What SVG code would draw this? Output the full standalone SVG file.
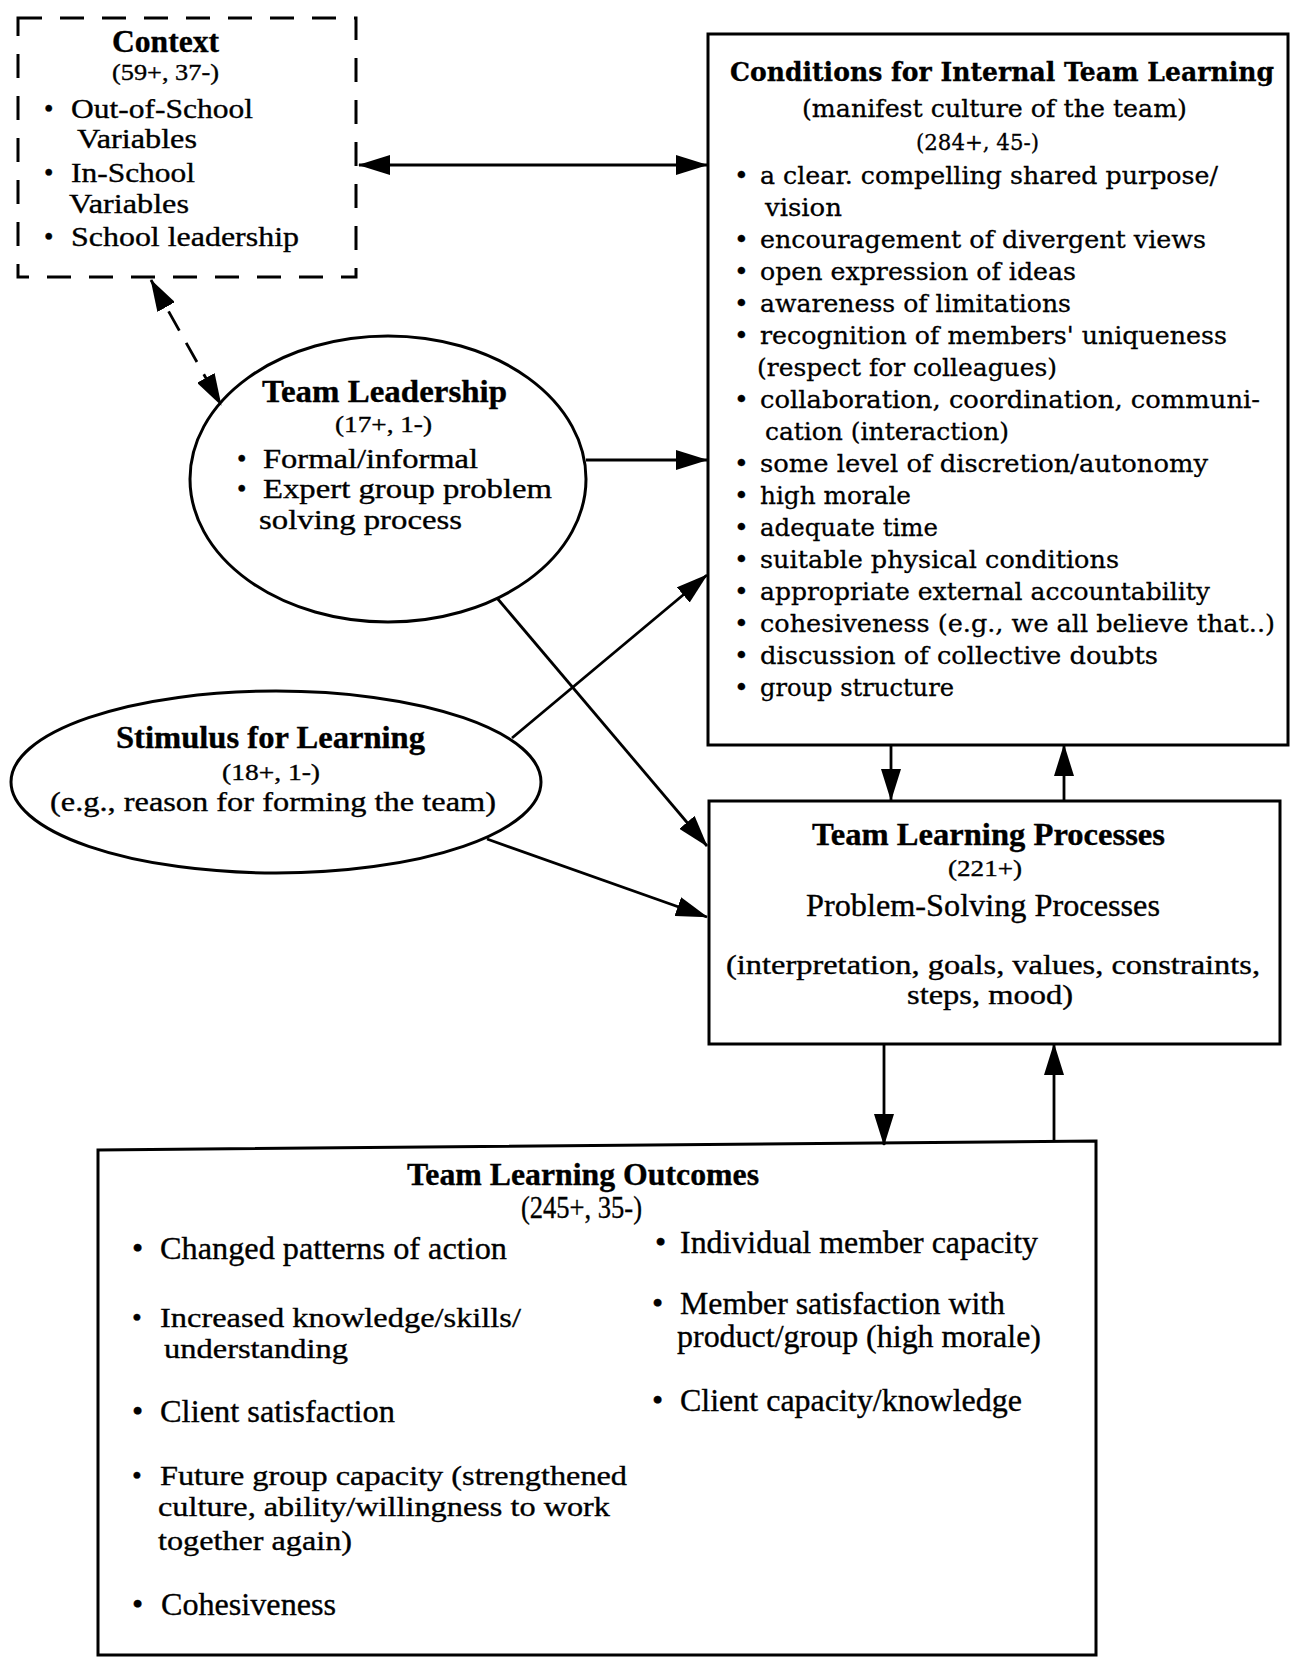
<svg xmlns="http://www.w3.org/2000/svg" width="1294" height="1658" viewBox="0 0 1294 1658">
<style>
.t{font-family:"Liberation Serif","Times New Roman",serif;font-size:32px;fill:#000;stroke:#000;stroke-width:0.35}
.b{font-weight:bold}
.s{font-size:23px}
.m{font-size:27px}
.n{font-size:28px}
.c{font-family:"DejaVu Serif","Liberation Serif",serif;font-size:25px;fill:#000;stroke:#000;stroke-width:0.3}
.ct{font-size:26px;font-weight:bold}
.cs{font-size:22px}
.box{fill:none;stroke:#000;stroke-width:3}
.ln{fill:none;stroke:#000;stroke-width:2.8}
.dash{stroke-dasharray:22 14}
</style>
<defs>
<marker id="ah" viewBox="0 0 32 20" refX="31" refY="10" markerWidth="32" markerHeight="20" markerUnits="userSpaceOnUse" orient="auto-start-reverse">
<path d="M0,0 L32,10 L0,20 z" fill="#000"/>
</marker>
</defs>

<g id="connectors">
<line class="ln" x1="359" y1="165" x2="707" y2="165" marker-start="url(#ah)" marker-end="url(#ah)"/>
<line class="ln dash" x1="151" y1="280" x2="221" y2="405" marker-start="url(#ah)" marker-end="url(#ah)"/>
<line class="ln" x1="586" y1="460" x2="707" y2="460" marker-end="url(#ah)"/>
<line class="ln" x1="497" y1="598" x2="707" y2="846" marker-end="url(#ah)"/>
<line class="ln" x1="512" y1="738" x2="707" y2="575" marker-end="url(#ah)"/>
<line class="ln" x1="487" y1="839" x2="707" y2="917" marker-end="url(#ah)"/>
<line class="ln" x1="891" y1="745" x2="891" y2="800" marker-end="url(#ah)"/>
<line class="ln" x1="1064" y1="800" x2="1064" y2="745" marker-end="url(#ah)"/>
<line class="ln" x1="884" y1="1044" x2="884" y2="1145" marker-end="url(#ah)"/>
<line class="ln" x1="1054" y1="1142" x2="1054" y2="1044" marker-end="url(#ah)"/>
</g>

<g id="context">
<rect class="box" x="18" y="18" width="338" height="259" stroke-dasharray="24 18"/>
<text class="t b" x="112" y="52" textLength="107" lengthAdjust="spacingAndGlyphs">Context</text>
<text class="t s" x="112" y="80" textLength="107" lengthAdjust="spacingAndGlyphs">(59+, 37-)</text>
<text class="t m" x="44" y="118">•</text>
<text class="t m" x="71" y="118" textLength="182" lengthAdjust="spacingAndGlyphs">Out-of-School</text>
<text class="t m" x="77" y="148" textLength="120" lengthAdjust="spacingAndGlyphs">Variables</text>
<text class="t m" x="44" y="182">•</text>
<text class="t m" x="71" y="182" textLength="124" lengthAdjust="spacingAndGlyphs">In-School</text>
<text class="t m" x="69" y="213" textLength="120" lengthAdjust="spacingAndGlyphs">Variables</text>
<text class="t m" x="44" y="246">•</text>
<text class="t m" x="71" y="246" textLength="228" lengthAdjust="spacingAndGlyphs">School leadership</text>
</g>

<g id="conditions">
<rect class="box" x="708" y="34" width="580" height="711"/>
<text class="c ct" x="730" y="81" textLength="544" lengthAdjust="spacingAndGlyphs">Conditions for Internal Team Learning</text>
<text class="c" x="802" y="117" font-size="26" textLength="385" lengthAdjust="spacingAndGlyphs">(manifest culture of the team)</text>
<text class="c cs" x="916" y="150" textLength="123" lengthAdjust="spacingAndGlyphs">(284+, 45-)</text>
<text class="c" x="734" y="184">•</text>
<text class="c" x="760" y="184" textLength="458" lengthAdjust="spacingAndGlyphs">a clear. compelling shared purpose/</text>
<text class="c" x="765" y="216" textLength="77" lengthAdjust="spacingAndGlyphs">vision</text>
<text class="c" x="734" y="248">•</text>
<text class="c" x="760" y="248" textLength="446" lengthAdjust="spacingAndGlyphs">encouragement of divergent views</text>
<text class="c" x="734" y="280">•</text>
<text class="c" x="760" y="280" textLength="316" lengthAdjust="spacingAndGlyphs">open expression of ideas</text>
<text class="c" x="734" y="312">•</text>
<text class="c" x="760" y="312" textLength="311" lengthAdjust="spacingAndGlyphs">awareness of limitations</text>
<text class="c" x="734" y="344">•</text>
<text class="c" x="760" y="344" textLength="467" lengthAdjust="spacingAndGlyphs">recognition of members' uniqueness</text>
<text class="c" x="757" y="376" textLength="300" lengthAdjust="spacingAndGlyphs">(respect for colleagues)</text>
<text class="c" x="734" y="408">•</text>
<text class="c" x="760" y="408" textLength="500" lengthAdjust="spacingAndGlyphs">collaboration, coordination, communi-</text>
<text class="c" x="765" y="440" textLength="244" lengthAdjust="spacingAndGlyphs">cation (interaction)</text>
<text class="c" x="734" y="472">•</text>
<text class="c" x="760" y="472" textLength="448" lengthAdjust="spacingAndGlyphs">some level of discretion/autonomy</text>
<text class="c" x="734" y="504">•</text>
<text class="c" x="760" y="504" textLength="151" lengthAdjust="spacingAndGlyphs">high morale</text>
<text class="c" x="734" y="536">•</text>
<text class="c" x="760" y="536" textLength="178" lengthAdjust="spacingAndGlyphs">adequate time</text>
<text class="c" x="734" y="568">•</text>
<text class="c" x="760" y="568" textLength="359" lengthAdjust="spacingAndGlyphs">suitable physical conditions</text>
<text class="c" x="734" y="600">•</text>
<text class="c" x="760" y="600" textLength="450" lengthAdjust="spacingAndGlyphs">appropriate external accountability</text>
<text class="c" x="734" y="632">•</text>
<text class="c" x="760" y="632" textLength="515" lengthAdjust="spacingAndGlyphs">cohesiveness (e.g., we all believe that..)</text>
<text class="c" x="734" y="664">•</text>
<text class="c" x="760" y="664" textLength="398" lengthAdjust="spacingAndGlyphs">discussion of collective doubts</text>
<text class="c" x="734" y="696">•</text>
<text class="c" x="760" y="696" textLength="194" lengthAdjust="spacingAndGlyphs">group structure</text>
</g>

<g id="team-leadership">
<ellipse class="box" cx="388" cy="479" rx="198" ry="143"/>
<text class="t b" x="262" y="402" textLength="245" lengthAdjust="spacingAndGlyphs">Team Leadership</text>
<text class="t s" x="335" y="432" textLength="97" lengthAdjust="spacingAndGlyphs">(17+, 1-)</text>
<text class="t m" x="237" y="468">•</text>
<text class="t m" x="263" y="468" textLength="215" lengthAdjust="spacingAndGlyphs">Formal/informal</text>
<text class="t m" x="237" y="498">•</text>
<text class="t m" x="263" y="498" textLength="289" lengthAdjust="spacingAndGlyphs">Expert group problem</text>
<text class="t m" x="259" y="529" textLength="203" lengthAdjust="spacingAndGlyphs">solving process</text>
</g>

<g id="stimulus">
<ellipse class="box" cx="276" cy="782" rx="265" ry="91"/>
<text class="t b" x="116" y="748" textLength="309" lengthAdjust="spacingAndGlyphs">Stimulus for Learning</text>
<text class="t s" x="222" y="780" textLength="98" lengthAdjust="spacingAndGlyphs">(18+, 1-)</text>
<text class="t n" x="50" y="811" textLength="446" lengthAdjust="spacingAndGlyphs">(e.g., reason for forming the team)</text>
</g>

<g id="processes">
<rect class="box" x="709" y="801" width="571" height="243"/>
<text class="t b" x="812" y="845" textLength="353" lengthAdjust="spacingAndGlyphs">Team Learning Processes</text>
<text class="t s" x="948" y="876" textLength="74" lengthAdjust="spacingAndGlyphs">(221+)</text>
<text class="t" x="806" y="916" textLength="354" lengthAdjust="spacingAndGlyphs">Problem-Solving Processes</text>
<text class="t m" x="726" y="974" textLength="534" lengthAdjust="spacingAndGlyphs">(interpretation, goals, values, constraints,</text>
<text class="t m" x="907" y="1004" textLength="166" lengthAdjust="spacingAndGlyphs">steps, mood)</text>
</g>

<g id="outcomes">
<path class="box" d="M98,1150 L1096,1141 L1096,1655 L98,1655 Z"/>
<text class="t b" x="407" y="1185" font-size="28" textLength="352" lengthAdjust="spacingAndGlyphs">Team Learning Outcomes</text>
<text class="t" x="521" y="1218" font-size="20" textLength="121" lengthAdjust="spacingAndGlyphs">(245+, 35-)</text>
<text class="t" x="655" y="1253" font-size="30">•</text>
<text class="t" x="680" y="1253" font-size="30" textLength="358" lengthAdjust="spacingAndGlyphs">Individual member capacity</text>
<text class="t" x="132" y="1259">•</text>
<text class="t" x="160" y="1259" textLength="347" lengthAdjust="spacingAndGlyphs">Changed patterns of action</text>
<text class="t n" x="132" y="1327">•</text>
<text class="t n" x="160" y="1327" textLength="361" lengthAdjust="spacingAndGlyphs">Increased knowledge/skills/</text>
<text class="t n" x="164" y="1358" textLength="184" lengthAdjust="spacingAndGlyphs">understanding</text>
<text class="t" x="132" y="1422">•</text>
<text class="t" x="160" y="1422" textLength="235" lengthAdjust="spacingAndGlyphs">Client satisfaction</text>
<text class="t n" x="132" y="1485">•</text>
<text class="t n" x="160" y="1485" textLength="467" lengthAdjust="spacingAndGlyphs">Future group capacity (strengthened</text>
<text class="t n" x="158" y="1516" textLength="452" lengthAdjust="spacingAndGlyphs">culture, ability/willingness to work</text>
<text class="t n" x="158" y="1550" textLength="194" lengthAdjust="spacingAndGlyphs">together again)</text>
<text class="t" x="132" y="1615">•</text>
<text class="t" x="161" y="1615" textLength="175" lengthAdjust="spacingAndGlyphs">Cohesiveness</text>
<text class="t" x="652" y="1314" font-size="29">•</text>
<text class="t" x="680" y="1314" font-size="29" textLength="325" lengthAdjust="spacingAndGlyphs">Member satisfaction with</text>
<text class="t" x="677" y="1347" font-size="29" textLength="364" lengthAdjust="spacingAndGlyphs">product/group (high morale)</text>
<text class="t" x="652" y="1411">•</text>
<text class="t" x="680" y="1411" textLength="342" lengthAdjust="spacingAndGlyphs">Client capacity/knowledge</text>
</g>
</svg>
